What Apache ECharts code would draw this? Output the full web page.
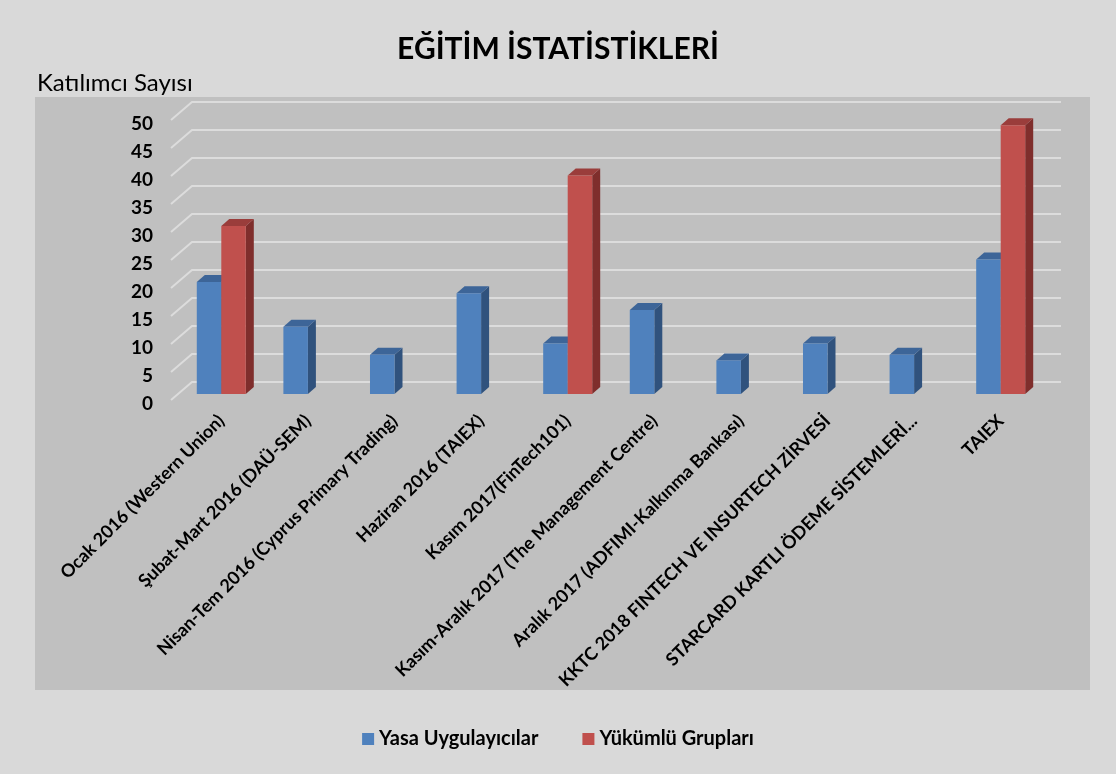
<!DOCTYPE html>
<html>
<head>
<meta charset="utf-8">
<script src="https://cdn.jsdelivr.net/npm/echarts@6/dist/echarts.min.js"></script>
<style>
  html, body { margin: 0; padding: 0; background: #d9d9d9; }
  #chart { width: 1116px; height: 774px; }
</style>
</head>
<body>
<div id="chart"></div>
<script>
const categories = [
  'Ocak 2016 (Western Union)',
  'Şubat-Mart 2016 (DAÜ-SEM)',
  'Nisan-Tem 2016 (Cyprus Primary Trading)',
  'Haziran 2016 (TAIEX)',
  'Kasım 2017(FinTech101)',
  'Kasım-Aralık 2017 (The Management Centre)',
  'Aralık 2017 (ADFIMI-Kalkınma Bankası)',
  'KKTC 2018 FINTECH VE INSURTECH ZİRVESİ',
  'STARCARD KARTLI ÖDEME SİSTEMLERİ...',
  'TAIEX'
]
const yasaUygulayicilar = [20, 12, 7, 18, 9, 15, 6, 9, 7, 24]
const yukumluGruplari = [30, null, null, null, 39, null, null, null, null, 48]
const yTicks = [0, 5, 10, 15, 20, 25, 30, 35, 40, 45, 50]

const font = 'Lato, "Open Sans", sans-serif'
const DX = 8, DY = 7 // derinlik (3B görünüm)

const palettes = [
  { front: '#4f81bd', side: '#30527d', top: '#3d6598' },
  { front: '#c0504d', side: '#7f2e2c', top: '#9a3d3b' }
]

const chart = echarts.init(document.getElementById('chart'))

// 3B sütun çizimi
const barRenderer = (s) => (params, api) => {
  const v = api.value(1)
  if (v == null || isNaN(v)) return
  const idx = api.value(0)
  const base = api.coord([idx, 0])
  const top = api.coord([idx, v])
  const band = api.size([1, 0])[0]
  const bw = band * 0.283
  const x0 = base[0] - bw + s * bw
  const x1 = x0 + bw
  const yb = base[1], yt = top[1]
  const c = palettes[s]
  return {
    type: 'group',
    children: [
      {
        type: 'polygon',
        shape: { points: [[x1, yt], [x1 + DX, yt - DY], [x1 + DX, yb - DY], [x1, yb]] },
        style: { fill: c.side }
      },
      {
        type: 'polygon',
        shape: { points: [[x0, yt], [x1, yt], [x1 + DX, yt - DY], [x0 + DX, yt - DY]] },
        style: { fill: c.top }
      },
      {
        type: 'rect',
        shape: { x: x0, y: yt, width: bw, height: yb - yt },
        style: { fill: c.front }
      }
    ]
  }
}

// arka duvar kılavuz çizgileri
const gridRenderer = (params, api) => {
  const cs = params.coordSys
  const y = api.coord([0, api.value(0)])[1]
  return {
    type: 'polyline',
    shape: {
      points: [
        [cs.x - 7, y + 6],
        [cs.x + 14, y - 12],
        [cs.x + cs.width + 17, y - 12]
      ]
    },
    style: { stroke: '#dcdcdc', lineWidth: 2, fill: null }
  }
}

const option = {
  backgroundColor: '#d9d9d9',
  textStyle: { fontFamily: font },
  title: {
    text: 'EĞİTİM İSTATİSTİKLERİ',
    left: 'center',
    top: 29,
    textStyle: { fontSize: 30, fontWeight: 'bold', color: '#000', fontFamily: font }
  },
  graphic: [
    {
      type: 'rect',
      left: 35, top: 97, z: -10,
      shape: { width: 1055, height: 593 },
      style: { fill: '#c0c0c0' }
    },
    {
      type: 'text',
      left: 37, top: 71,
      style: { text: 'Katılımcı Sayısı', fontSize: 24, fill: '#000', fontFamily: font }
    }
  ],
  legend: {
    bottom: 20,
    left: 'center',
    itemGap: 44,
    itemWidth: 12,
    itemHeight: 12,
    icon: 'rect',
    textStyle: { fontSize: 20, fontWeight: 'bold', color: '#000', fontFamily: font },
    data: ['Yasa Uygulayıcılar', 'Yükümlü Grupları']
  },
  grid: { left: 178, right: 72, top: 114, height: 280 },
  xAxis: {
    type: 'category',
    data: categories,
    axisLine: { show: false },
    axisTick: { show: false },
    axisLabel: {
      rotate: 45,
      interval: 0,
      margin: 24,
      fontSize: 18,
      fontWeight: 'bold',
      color: '#000',
      fontFamily: font
    }
  },
  yAxis: {
    type: 'value',
    min: 0,
    max: 50,
    interval: 5,
    axisLine: { show: false },
    axisTick: { show: false },
    splitLine: { show: false },
    axisLabel: {
      margin: 25,
      fontSize: 19,
      fontWeight: 'bold',
      color: '#000',
      fontFamily: font,
      verticalAlign: 'top'
    }
  },
  series: [
    {
      type: 'custom',
      name: 'kılavuz',
      silent: true,
      z: 0,
      renderItem: gridRenderer,
      encode: { y: 0 },
      data: yTicks.map(t => [t])
    },
    {
      type: 'custom',
      name: 'Yasa Uygulayıcılar',
      z: 2,
      itemStyle: { color: palettes[0].front },
      renderItem: barRenderer(0),
      encode: { x: 0, y: 1 },
      data: yasaUygulayicilar.map((v, i) => [i, v])
    },
    {
      type: 'custom',
      name: 'Yükümlü Grupları',
      z: 3,
      itemStyle: { color: palettes[1].front },
      renderItem: barRenderer(1),
      encode: { x: 0, y: 1 },
      data: yukumluGruplari.map((v, i) => [i, v]).filter(d => d[1] != null)
    }
  ]
}

chart.setOption(option)
window.addEventListener('resize', () => chart.resize())
</script>
</body>
</html>
